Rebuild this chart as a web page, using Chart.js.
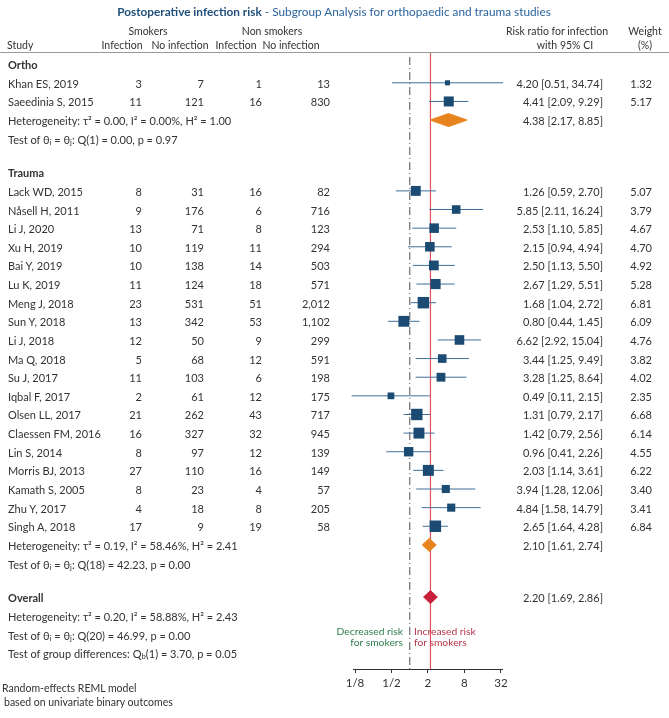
<!DOCTYPE html>
<html><head><meta charset="utf-8">
<script src="https://cdn.jsdelivr.net/npm/chart.js@4.4.1/dist/chart.umd.min.js"></script>
<style>
html,body{margin:0;padding:0;background:#fff;}
#wrap{position:relative;width:669px;height:718px;overflow:hidden;font-family:Lato,'Open Sans',sans-serif;color:#333;font-size:11px;}
#wrap canvas{position:absolute;left:0;top:0;}
.t{position:absolute;white-space:nowrap;line-height:1;}
.t sub{font-size:0.7em;vertical-align:-0.25em;line-height:0;}
.h{font-size:10.5px;}
</style></head><body>
<div id="wrap"><canvas id="c" width="669" height="718"></canvas></div>
<script>
// ---------------- DATA ----------------
const studyNames = ['Khan ES, 2019','Saeedinia S, 2015','Lack WD, 2015','Nåsell H, 2011','Li J, 2020','Xu H, 2019','Bai Y, 2019','Lu K, 2019','Meng J, 2018','Sun Y, 2018','Li J, 2018','Ma Q, 2018','Su J, 2017','Iqbal F, 2017','Olsen LL, 2017','Claessen FM, 2016','Lin S, 2014','Morris BJ, 2013','Kamath S, 2005','Zhu Y, 2017','Singh A, 2018'];
const studyGroup = [0,0,1,1,1,1,1,1,1,1,1,1,1,1,1,1,1,1,1,1,1];
const smokersInfection = [3,11,8,9,13,10,10,11,23,13,12,5,11,2,21,16,8,27,8,4,17];
const smokersNoInfection = [7,121,31,176,71,119,138,124,531,342,50,68,103,61,262,327,97,110,23,18,9];
const nonSmokersInfection = [1,16,16,6,8,11,14,18,51,53,9,12,6,12,43,32,12,16,4,8,19];
const nonSmokersNoInfection = [13,830,82,716,123,294,503,571,2012,1102,299,591,198,175,717,945,139,149,57,205,58];
const riskRatio = [4.20,4.41,1.26,5.85,2.53,2.15,2.50,2.67,1.68,0.80,6.62,3.44,3.28,0.49,1.31,1.42,0.96,2.03,3.94,4.84,2.65];
const ciLower = [0.51,2.09,0.59,2.11,1.10,0.94,1.13,1.29,1.04,0.44,2.92,1.25,1.25,0.11,0.79,0.79,0.41,1.14,1.28,1.58,1.64];
const ciUpper = [34.74,9.29,2.70,16.24,5.85,4.94,5.50,5.51,2.72,1.45,15.04,9.49,8.64,2.15,2.17,2.56,2.26,3.61,12.06,14.79,4.28];
const weightPct = [1.32,5.17,5.07,3.79,4.67,4.70,4.92,5.28,6.81,6.09,4.76,3.82,4.02,2.35,6.68,6.14,4.55,6.22,3.40,3.41,6.84];

const groupNames = ['Ortho','Trauma'];
const groupRR = [4.38,2.10];
const groupLower = [2.17,1.61];
const groupUpper = [8.85,2.74];
const groupHeterogeneity = ['τ² = 0.00, I² = 0.00%, H² = 1.00','τ² = 0.19, I² = 58.46%, H² = 2.41'];
const groupTest = ['Q(1) = 0.00, p = 0.97','Q(18) = 42.23, p = 0.00'];

const overallRR = [2.20];
const overallLower = [1.69];
const overallUpper = [2.86];
const overallHeterogeneity = 'τ² = 0.20, I² = 58.88%, H² = 2.43';
const overallTest = 'Q(20) = 46.99, p = 0.00';
const groupDifferenceTest = 'Q<sub>b</sub>(1) = 3.70, p = 0.05';

const axisTicks = [0.125,0.5,2,8,32];
const axisTickLabels = ['1/8','1/2','2','8','32'];

// ---------------- LAYOUT (row slots) ----------------
const rows = [];
let slot = 0.6;
groupNames.forEach((g, gi) => {
  rows.push({kind:'header', text:g, slot}); slot += 1;
  studyNames.forEach((n, i) => { if (studyGroup[i] === gi) { rows.push({kind:'study', i, slot}); slot += 1; } });
  rows.push({kind:'het', gi, slot}); slot += 1;
  rows.push({kind:'test', gi, slot}); slot += 1.8;
});
rows.push({kind:'overall', slot}); slot += 1.02;
rows.push({kind:'ohet', slot}); slot += 1;
rows.push({kind:'otest', slot}); slot += 1;
rows.push({kind:'gdiff', slot});
const Y_MAX = 33.06;
const DIAMOND_H = 0.35;

const BLUE = '#1b4a72', CI_BLUE = '#3f6f99', ORANGE = '#e8841f', CRIMSON = '#c8203c';

// ---------------- DATASETS ----------------
const datasets = [];
datasets.push({type:'line', data:[{x:1,y:0.22},{x:1,y:Y_MAX}], borderColor:'#7a7a7a', borderWidth:1.3, borderDash:[8,3,1,3], pointRadius:0, clip:false, order:20, fill:false});
datasets.push({type:'line', data:[{x:overallRR[0],y:0},{x:overallRR[0],y:Y_MAX}], borderColor:'#e2505c', borderWidth:1.2, pointRadius:0, clip:false, order:19, fill:false});
const sq = [];
const sqR = [];
rows.filter(r => r.kind === 'study').forEach(r => {
  const i = r.i;
  datasets.push({type:'line', data:[{x:ciLower[i],y:r.slot},{x:ciUpper[i],y:r.slot}], borderColor:CI_BLUE, borderWidth:1, pointRadius:0, clip:false, order:10, fill:false});
  sq.push({x:riskRatio[i], y:r.slot});
  sqR.push(4.4*Math.sqrt(weightPct[i])/Math.SQRT2);
});
datasets.push({type:'scatter', data:sq, pointStyle:'rect', pointRadius:sqR, pointHoverRadius:sqR, backgroundColor:BLUE, borderColor:BLUE, borderWidth:0, clip:false, order:1});
function diamond(rr, lo, hi, s, color) {
  return {type:'line', data:[{x:lo,y:s},{x:rr,y:s-DIAMOND_H},{x:hi,y:s},{x:rr,y:s+DIAMOND_H},{x:lo,y:s}],
    borderColor:color, backgroundColor:color, borderWidth:1, pointRadius:0, fill:'shape', clip:false, order:2, tension:0};
}
rows.forEach(r => {
  if (r.kind === 'het') datasets.push(diamond(groupRR[r.gi], groupLower[r.gi], groupUpper[r.gi], r.slot, ORANGE));
  if (r.kind === 'overall') datasets.push(diamond(overallRR[0], overallLower[0], overallUpper[0], r.slot, CRIMSON));
});

const chart = new Chart(document.getElementById('c'), {
  type:'scatter',
  data:{datasets},
  options:{
    responsive:false, animation:false, devicePixelRatio:1,
    layout:{padding:{left:353, right:669-502, top:53, bottom:718-669-30}},
    plugins:{legend:{display:false}, tooltip:{enabled:false}},
    scales:{
      x:{type:'logarithmic', min:Math.pow(2,-3.11), max:Math.pow(2,5.06), position:'bottom',
        afterBuildTicks:s => { s.ticks = axisTicks.map(v => ({value:v})); },
        afterFit:s => { s.height = 30; },
        ticks:{callback:(v,i) => axisTickLabels[i], autoSkip:false, maxRotation:0, minRotation:0, color:'#333', font:{family:'Lato', size:11.5}, padding:3},
        grid:{drawOnChartArea:false, drawTicks:true, tickLength:4, color:'#333', lineWidth:1},
        border:{display:true, color:'#333', width:1}},
      y:{type:'linear', display:false, reverse:true, min:0, max:Y_MAX}
    }
  }
});

// ---------------- TEXT ----------------
const wrap = document.getElementById('wrap');
function addText(html, x, y, align, style, cls) {
  const d = document.createElement('div');
  d.className = 't' + (cls ? ' ' + cls : '');
  d.innerHTML = html;
  d.style.left = x + 'px';
  d.style.top = y + 'px';
  const tx = align === 'right' ? '-100%' : align === 'center' ? '-50%' : '0';
  d.style.transform = 'translate(' + tx + ',-50%)';
  if (style) Object.assign(d.style, style);
  wrap.appendChild(d);
}
const fmt = v => v.toLocaleString('en-US');
const f2 = v => v.toFixed(2);
const yPx = s => chart.scales.y.getPixelForValue(s);

addText('<span style="font-weight:700;color:#1f4e79">Postoperative infection risk</span><span style="color:#2a649c"> - Subgroup Analysis for orthopaedic and trauma studies</span>', 334, 12, 'center', {fontSize:'11.8px'});
addText('Smokers', 148, 31, 'center', null, 'h');
addText('Non smokers', 272, 31, 'center', null, 'h');
addText('Risk ratio for infection', 557, 31, 'center', null, 'h');
addText('Weight', 645, 31, 'center', null, 'h');
addText('Study', 7, 45, 'left', null, 'h');
addText('Infection', 122, 45, 'center', null, 'h');
addText('No infection', 180, 45, 'center', null, 'h');
addText('Infection', 236, 45, 'center', null, 'h');
addText('No infection', 291, 45, 'center', null, 'h');
addText('with 95% CI', 565, 45, 'center', null, 'h');
addText('(%)', 645, 45, 'center', null, 'h');
const hl = document.createElement('div');
Object.assign(hl.style, {position:'absolute', left:'0px', top:'52px', width:'669px', height:'1px', background:'#9a9a9a'});
wrap.appendChild(hl);

const colX = [142, 204, 262, 330];
const CI_X = 603, W_X = 652, LEFT = 8;
const thetaTest = 'Test of θ<sub>i</sub> = θ<sub>j</sub>: ';
rows.forEach(r => {
  const y = yPx(r.slot);
  if (r.kind === 'header') addText(r.text, LEFT, y, 'left', {fontWeight:'700'});
  else if (r.kind === 'study') {
    const i = r.i;
    addText(studyNames[i], LEFT, y, 'left');
    addText(fmt(smokersInfection[i]), colX[0], y, 'right');
    addText(fmt(smokersNoInfection[i]), colX[1], y, 'right');
    addText(fmt(nonSmokersInfection[i]), colX[2], y, 'right');
    addText(fmt(nonSmokersNoInfection[i]), colX[3], y, 'right');
    addText(f2(riskRatio[i]) + ' [' + f2(ciLower[i]) + ', ' + f2(ciUpper[i]) + ']', CI_X, y, 'right');
    addText(f2(weightPct[i]), W_X, y, 'right');
  } else if (r.kind === 'het') {
    addText('Heterogeneity: ' + groupHeterogeneity[r.gi], LEFT, y, 'left');
    addText(f2(groupRR[r.gi]) + ' [' + f2(groupLower[r.gi]) + ', ' + f2(groupUpper[r.gi]) + ']', CI_X, y, 'right');
  } else if (r.kind === 'test') {
    addText(thetaTest + groupTest[r.gi], LEFT, y, 'left');
  } else if (r.kind === 'overall') {
    addText('Overall', LEFT, y, 'left', {fontWeight:'700'});
    addText(f2(overallRR[0]) + ' [' + f2(overallLower[0]) + ', ' + f2(overallUpper[0]) + ']', CI_X, y, 'right');
  } else if (r.kind === 'ohet') {
    addText('Heterogeneity: ' + overallHeterogeneity, LEFT, y, 'left');
  } else if (r.kind === 'otest') {
    addText(thetaTest + overallTest, LEFT, y, 'left');
  } else if (r.kind === 'gdiff') {
    addText('Test of group differences: ' + groupDifferenceTest, LEFT, y, 'left');
  }
});
addText('Decreased risk<br>for smokers', 403, 637, 'right', {color:'#2e7d4e', textAlign:'right', lineHeight:'11px', fontSize:'10.3px'});
addText('Increased risk<br>for smokers', 414, 637, 'left', {color:'#b5374a', lineHeight:'11px', fontSize:'10.3px'});
addText('Random-effects REML model', 2, 688, 'left', {fontSize:'10.5px'});
addText('based on univariate binary outcomes', 4, 702, 'left', {fontSize:'10.5px'});
</script>
</body></html>
